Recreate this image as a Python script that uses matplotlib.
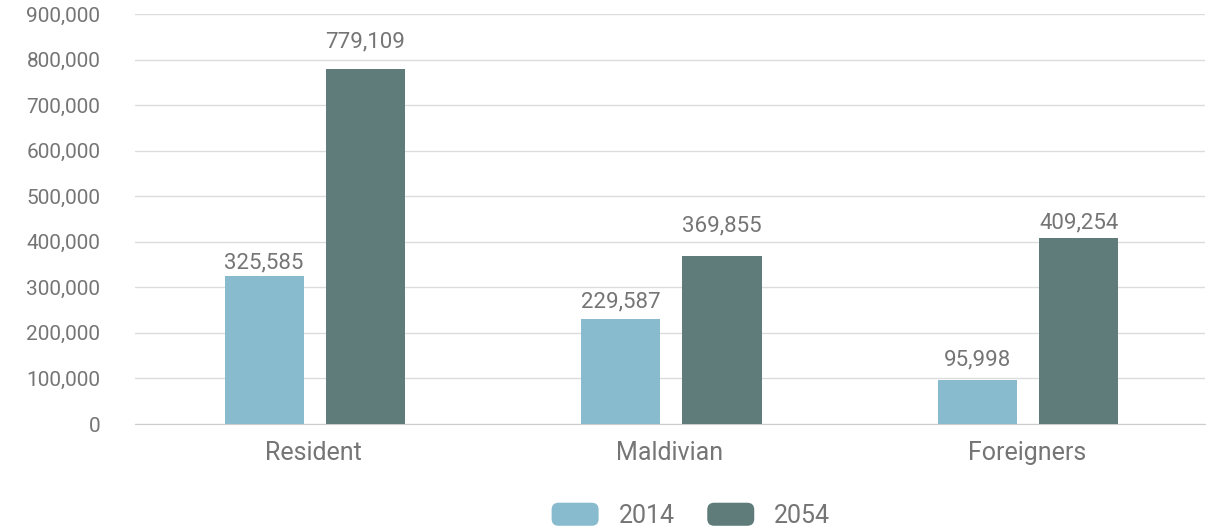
import matplotlib
matplotlib.use("Agg")
import matplotlib.pyplot as plt
from matplotlib.patches import FancyBboxPatch, Patch
from matplotlib.legend_handler import HandlerPatch
from matplotlib.ticker import FuncFormatter
import numpy as np

categories = ["Resident", "Maldivian", "Foreigners"]
series_names = ["2014", "2054"]
values_2014 = [325585, 229587, 95998]
values_2054 = [779109, 369855, 409254]
yticks = [0, 100000, 200000, 300000, 400000, 500000, 600000, 700000, 800000, 900000]

colors = ["#88bbce", "#5f7c7b"]
text_color = "#757575"
plt.rcParams['font.family'] = ['Roboto', 'DejaVu Sans']

fig = plt.figure(figsize=(12.16, 5.32), dpi=100)
ax = fig.add_axes([135/1216, 1-424/532, 1070/1216, 410/532])

x = np.arange(len(categories))
w = 0.222
offs = [-0.138, 0.146]
# label offsets (pixels above bar top, to text center) for visual match
lab_off = [[13, 17, 20], [27, 30, 15]]
for si, vals in enumerate([values_2014, values_2054]):
    bars = ax.bar(x + offs[si], vals, width=w, color=colors[si], zorder=3)
    for bi, (b, v) in enumerate(zip(bars, vals)):
        ax.annotate(f"{v:,}", (b.get_x() + b.get_width()/2, v),
                    xytext=(0, lab_off[si][bi]*0.72), textcoords="offset points",
                    ha="center", va="center", fontsize=16, color=text_color)

ax.set_xlim(-0.5, 2.5)
ax.set_ylim(0, 900000)
ax.set_yticks(yticks)
ax.yaxis.set_major_formatter(FuncFormatter(lambda v, p: f"{int(v):,}"))
ax.set_xticks(x)
ax.set_xticklabels(categories)
ax.grid(axis="y", color="#dcdcdc", linewidth=1, zorder=0)
for s in ["top", "right", "left"]:
    ax.spines[s].set_visible(False)
ax.spines["bottom"].set_color("#cccccc")
ax.tick_params(axis="y", length=0, pad=25, labelsize=15, labelcolor=text_color)
ax.tick_params(axis="x", length=0, pad=12, labelsize=18, labelcolor=text_color)


class RoundHandler(HandlerPatch):
    def create_artists(self, legend, orig_handle, xdescent, ydescent, width, height, fontsize, trans):
        p = FancyBboxPatch((-xdescent, -ydescent - 2), width, height + 4,
                           boxstyle="round,pad=0,rounding_size=5",
                           facecolor=orig_handle.get_facecolor(), edgecolor="none",
                           transform=trans)
        return [p]


handles = [Patch(facecolor=c) for c in colors]
leg = fig.legend(handles, series_names, loc="center", bbox_to_anchor=(691/1216, 1-516/532),
                 ncol=2, frameon=False, fontsize=18, handlelength=1.88, handleheight=0.7,
                 handletextpad=0.8, columnspacing=1.3,
                 handler_map={Patch: RoundHandler()})
for t in leg.get_texts():
    t.set_color(text_color)

fig.savefig("out.png", dpi=100)
